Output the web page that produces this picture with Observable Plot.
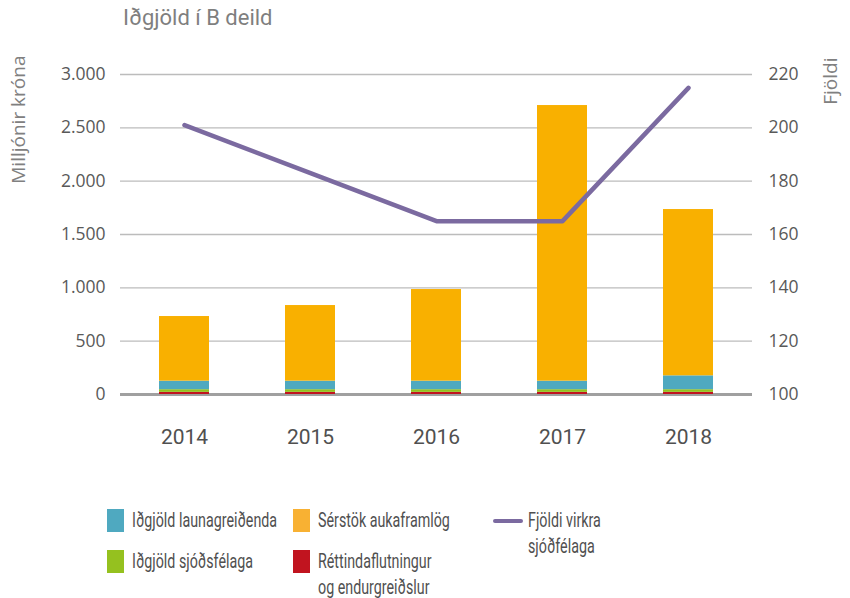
<!DOCTYPE html>
<html>
<head>
<meta charset="utf-8">
<script src="https://cdn.jsdelivr.net/npm/d3@7"></script>
<script src="https://cdn.jsdelivr.net/npm/@observablehq/plot@0.6"></script>
<style>
  html, body { margin: 0; padding: 0; background: #fff; }
  #wrap { position: relative; width: 850px; height: 598px; overflow: hidden; }
  #title { position: absolute; left: 0; top: 5px; width: 850px; padding-left: 123px; box-sizing: border-box; font-family: Roboto, sans-serif; font-size: 22px; color: #7f7f7f; white-space: nowrap; }
  #chart { position: absolute; left: 0; top: 40px; }
  .lg { position: absolute; font-size: 21px; color: #505050; line-height: 26px; font-family: Roboto, sans-serif; white-space: nowrap; transform: scaleX(0.68); transform-origin: left top; }
  .sw { position: absolute; width: 17px; height: 23px; }
</style>
</head>
<body>
<div id="wrap">
  <div id="title">Iðgjöld í B deild</div>
  <div id="chart"></div>
  <div id="legend"></div>
</div>
<script>
const years = ["2014", "2015", "2016", "2017", "2018"];
const rettindaflutningur = [20, 20, 20, 20, 20];
const sjodsfelaga = [25, 25, 25, 25, 25];
const launagreidenda = [80, 80, 80, 80, 130];
const serstok = [606, 709, 859, 2584, 1559];
const fjoldi = [201, 183, 165, 165, 215];
const leftTicks = [0, 500, 1000, 1500, 2000, 2500, 3000];
const rightTicks = [100, 120, 140, 160, 180, 200, 220];

const seriesNames = ["Réttindaflutningur og endurgreiðslur", "Iðgjöld sjóðsfélaga", "Iðgjöld launagreiðenda", "Sérstök aukaframlög"];
const seriesValues = [rettindaflutningur, sjodsfelaga, launagreidenda, serstok];
const seriesColors = ["#c1141f", "#95c11f", "#4fa9c0", "#f9b000"];

const rows = seriesNames.flatMap((k, si) => years.map((y, i) => ({year: y, key: k, value: seriesValues[si][i]})));
const countRows = years.map((y, i) => ({year: y, n: fjoldi[i]}));

const toLeft = v => (v - 100) * 25; // 100..220 -> 0..3000
const loc = d3.formatLocale({decimal: ",", thousands: ".", grouping: [3], currency: ["", ""]});
const fmt = loc.format(",");

const chart = Plot.plot({
  width: 850,
  height: 420,
  marginTop: 34,
  marginLeft: 120,
  marginRight: 98,
  marginBottom: 66,
  style: {fontFamily: "'Open Sans', sans-serif", color: "#595959", background: "transparent", overflow: "visible"},
  x: {type: "band", domain: years, paddingInner: 0.6, paddingOuter: 0.3, axis: null},
  y: {domain: [0, 3000], axis: null},
  color: {domain: seriesNames, range: seriesColors},
  marks: [
    Plot.ruleY(leftTicks.filter(d => d > 0), {stroke: "#bcbcbc", strokeWidth: 1.4}),
    Plot.ruleY([0], {stroke: "#a0a0a0", strokeWidth: 3}),
    Plot.barY(rows, {x: "year", y: "value", fill: "key"}),
    Plot.line(countRows, {x: "year", y: d => toLeft(d.n), stroke: "#7b6aa0", strokeWidth: 4.5, strokeLinecap: "round", strokeLinejoin: "round"}),
    Plot.axisY(leftTicks, {anchor: "left", label: null, tickSize: 0, tickPadding: 15, tickFormat: fmt, fontSize: 17.5, fill: "#595959"}),
    Plot.axisY(rightTicks.map(toLeft), {anchor: "right", label: null, tickSize: 0, tickPadding: 16, tickFormat: d => String(d / 25 + 100), fontSize: 17.5, fill: "#595959"}),
    Plot.axisX(years, {anchor: "bottom", label: null, tickSize: 0, tickPadding: 35, fontSize: 21, fill: "#505050", fontFamily: "Roboto, sans-serif"}),
    Plot.text(["Milljónir króna"], {frameAnchor: "top-left", text: d => d, rotate: -90, textAnchor: "end", lineAnchor: "middle", dx: -102, dy: -19, fontSize: 19, fill: "#808080"}),
    Plot.text(["Fjöldi"], {frameAnchor: "top-right", text: d => d, rotate: -90, textAnchor: "end", lineAnchor: "middle", dx: 78, dy: -17, fontSize: 19, fill: "#808080"})
  ]
});
document.getElementById("chart").appendChild(chart);

// Legend (HTML)
const legend = document.getElementById("legend");
const items = [
  {name: "Iðgjöld launagreiðenda", color: seriesColors[2], x: 107, y: 509},
  {name: "Iðgjöld sjóðsfélaga", color: seriesColors[1], x: 107, y: 550},
  {name: "Sérstök aukaframlög", color: "#f8b133", x: 293, y: 509},
  {name: "Réttindaflutningur<br>og endurgreiðslur", color: seriesColors[0], x: 293, y: 550}
];
for (const it of items) {
  const sw = document.createElement("div");
  sw.className = "sw";
  sw.style.left = it.x + "px";
  sw.style.top = it.y + "px";
  sw.style.background = it.color;
  legend.appendChild(sw);
  const t = document.createElement("div");
  t.className = "lg";
  t.style.left = (it.x + 25) + "px";
  t.style.top = (it.y - 2) + "px";
  t.innerHTML = it.name;
  legend.appendChild(t);
}
const ln = document.createElement("div");
ln.style.cssText = "position:absolute;left:493px;top:519px;width:30px;height:4px;border-radius:2px;background:#7b6aa0";
legend.appendChild(ln);
const lt = document.createElement("div");
lt.className = "lg";
lt.style.left = "528px";
lt.style.top = "507px";
lt.innerHTML = "Fjöldi virkra<br>sjóðfélaga";
legend.appendChild(lt);
</script>
</body>
</html>
